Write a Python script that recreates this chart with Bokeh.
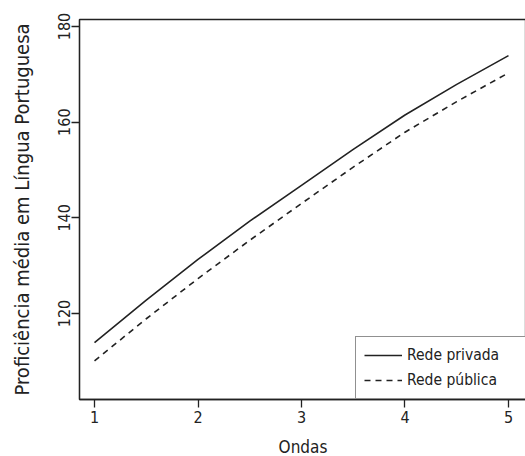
from bokeh.plotting import figure
from bokeh.models import FixedTicker, Range1d, Legend, LegendItem
from bokeh.embed import file_html
from bokeh.resources import INLINE

# Data
ondas = [1, 1.5, 2, 2.5, 3, 3.5, 4, 4.5, 5]
rede_privada = [113.9, 122.8, 131.3, 139.3, 146.8, 154.3, 161.5, 167.9, 173.9]
rede_publica = [110.1, 118.9, 127.3, 135.3, 143.0, 150.6, 157.9, 164.3, 170.3]
x_ticks = [1, 2, 3, 4, 5]
y_ticks = [120, 140, 160, 180]
series_labels = ["Rede privada", "Rede pública"]

FONT = "'DejaVu Sans Condensed', 'Liberation Sans', sans-serif"
INK = "#222222"

p = figure(
    frame_width=447, frame_height=380,
    min_border_left=79, min_border_top=19, min_border_right=0, min_border_bottom=57,
    x_range=Range1d(0.855, 5.174), y_range=Range1d(102.02, 181.46),
    output_backend="svg", toolbar_location=None,
)
p.background_fill_color = "white"
p.border_fill_color = "white"
p.grid.visible = False
p.outline_line_color = INK
p.outline_line_width = 1.3

r1 = p.line(ondas, rede_privada, line_color=INK, line_width=1.6)
r2 = p.line(ondas, rede_publica, line_color=INK, line_width=1.6, line_dash="6 5")

for ax in (p.xaxis[0], p.yaxis[0]):
    ax.axis_line_color = INK
    ax.axis_line_width = 1.3
    ax.major_tick_line_color = INK
    ax.major_tick_line_width = 1.3
    ax.major_tick_in = 0
    ax.major_tick_out = 8
    ax.minor_tick_line_color = None
    ax.major_label_text_font = FONT
    ax.major_label_text_font_size = "16px"
    ax.major_label_text_color = INK
    ax.axis_label_text_font = FONT
    ax.axis_label_text_font_style = "normal"
    ax.axis_label_text_color = INK

p.xaxis[0].ticker = FixedTicker(ticks=x_ticks)
p.yaxis[0].ticker = FixedTicker(ticks=y_ticks)
p.xaxis[0].axis_label = "Ondas"
p.yaxis[0].axis_label = "Proficiência média em Língua Portuguesa"
p.xaxis[0].axis_label_text_font_size = "17px"
p.yaxis[0].axis_label_text_font_size = "20px"
p.xaxis[0].major_label_standoff = 3
p.xaxis[0].axis_label_standoff = 11
p.yaxis[0].major_label_orientation = "vertical"
p.yaxis[0].major_label_standoff = 1
p.yaxis[0].axis_label_standoff = 22

legend = Legend(
    items=[LegendItem(label=series_labels[0], renderers=[r1]),
           LegendItem(label=series_labels[1], renderers=[r2])],
    location=(276, 0),
    border_line_color=INK, border_line_width=1.3,
    background_fill_color="white", background_fill_alpha=1.0,
    label_text_font=FONT, label_text_font_size="15.5px", label_text_color=INK,
    glyph_width=38, glyph_height=20, label_standoff=5, label_width=140,
    padding=8, spacing=5, margin=0,
)
p.add_layout(legend, "center")

open("out.html", "w").write(file_html(p, INLINE))
